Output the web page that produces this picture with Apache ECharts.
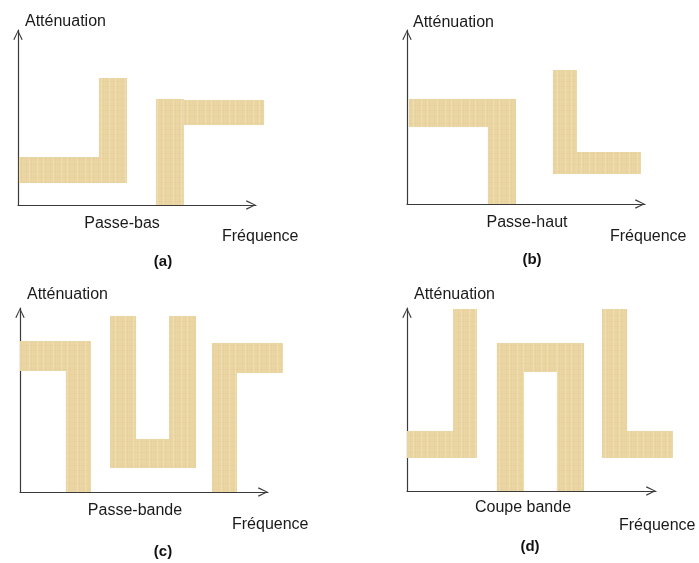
<!DOCTYPE html>
<html>
<head>
<meta charset="utf-8">
<script src="https://cdn.jsdelivr.net/npm/echarts@6/dist/echarts.min.js"></script>
<style>html,body{margin:0;padding:0;background:#fff}#c{width:699px;height:563px}</style>
</head>
<body>
<div id="c"></div>
<script>
// Each band rectangle: [freqStart, freqEnd, attenStart, attenEnd] (axis units 0-100)
var rectsA = [[0.4,45.8,12.6,27.4],[34.0,45.8,12.6,72.6],[58.0,69.7,0,60.6],[69.7,103.4,45.7,60.0]];
var rectsB = [[0.8,45.8,44.3,60.3],[34.0,45.8,0,44.3],[61.3,71.4,17.2,77.0],[71.4,98.3,17.2,29.9]];
var rectsC = [[0,28.6,65.8,82.1],[18.5,28.6,0,65.8],[36.3,46.8,13.0,95.7],[60.1,71.0,13.0,95.7],[46.8,60.1,13.0,28.8],[77.4,87.5,0,81.0],[87.5,106.0,64.7,81.0]];
var rectsD = [[0,18.5,18.0,32.8],[18.5,28.1,18.0,99.5],[36.1,47.0,0,80.9],[60.2,71.1,0,80.9],[47.0,60.2,65.0,80.9],[78.3,88.4,18.0,99.5],[88.4,106.8,18.0,32.8]];
var panelNames = ['Passe-bas','Passe-haut','Passe-bande','Coupe bande'];
var panelTags = ['(a)','(b)','(c)','(d)'];
var yName = 'Atténuation';
var xName = 'Fréquence';

var allRects = [rectsA, rectsB, rectsC, rectsD];

// layout of the four panels (pixels)
var grids = [
  {left:18, top:30, width:238, height:175},
  {left:407, top:30, width:238, height:174},
  {left:20, top:308, width:248, height:184},
  {left:407, top:308, width:249, height:183}
];
var textPos = [
  {y:[21.5, 223.5, 237, 262], nameX:122, fx:222, tagX:163, yx:25},
  {y:[22.5, 222.5, 236.5, 260], nameX:527, fx:610, tagX:532, yx:413},
  {y:[294.5, 510.5, 525, 552], nameX:135, fx:232, tagX:163, yx:27},
  {y:[294.5, 507.5, 525.5, 546.5], nameX:523, fx:619, tagX:530, yx:414}
];

// papyrus-like deterministic texture
var tex = document.createElement('canvas');
tex.width = 24; tex.height = 24;
var tc = tex.getContext('2d');
tc.fillStyle = '#EBD6A3';
tc.fillRect(0,0,24,24);
tc.fillStyle = 'rgba(205,180,120,0.10)';
[2,7,11,17,21].forEach(function(x){ tc.fillRect(x,0,1,24); });
[3,9,14,20].forEach(function(y){ tc.fillRect(0,y,24,1); });
tc.fillStyle = 'rgba(255,250,230,0.22)';
[5,13,19].forEach(function(x){ tc.fillRect(x,0,1,24); });

var arrowPath = 'path://M5,0 L10,10 L8.8,10.6 L5,2.2 L1.2,10.6 L0,10 Z';

var option = {
  animation:false,
  grid: grids.map(function(g){ return {left:g.left, top:g.top, width:g.width, height:g.height}; }),
  xAxis: grids.map(function(g,i){ return {
    type:'value', gridIndex:i, min:0, max:100,
    axisLine:{show:true, onZero:false, lineStyle:{color:'#3a3a3a', width:1.2}, symbol:['none', arrowPath], symbolSize:[10,10], symbolOffset:[0,-5]},
    axisTick:{show:false}, axisLabel:{show:false}, splitLine:{show:false}
  }; }),
  yAxis: grids.map(function(g,i){ return {
    type:'value', gridIndex:i, min:0, max:100,
    axisLine:{show:true, onZero:false, lineStyle:{color:'#3a3a3a', width:1.2}, symbol:['none', arrowPath], symbolSize:[10,10], symbolOffset:[0,-5]},
    axisTick:{show:false}, axisLabel:{show:false}, splitLine:{show:false}
  }; }),
  series: allRects.map(function(rs,i){ return {
    type:'custom', xAxisIndex:i, yAxisIndex:i, clip:false,
    data: rs,
    renderItem: function(params, api){
      var p0 = api.coord([api.value(0), api.value(3)]);
      var p1 = api.coord([api.value(1), api.value(2)]);
      return {type:'rect', shape:{x:p0[0], y:p0[1], width:p1[0]-p0[0], height:p1[1]-p0[1]},
        style:{fill:{image:tex, repeat:'repeat'}}};
    }
  }; }),
  graphic: []
};

var font = '"Liberation Sans", Arial, sans-serif';
textPos.forEach(function(t,i){
  option.graphic.push({type:'text', x:t.yx, y:t.y[0], style:{text:yName, font:'16px '+font, fill:'#1a1a1a', textAlign:'left', textVerticalAlign:'middle'}});
  option.graphic.push({type:'text', x:t.nameX, y:t.y[1], style:{text:panelNames[i], font:'16px '+font, fill:'#1a1a1a', textAlign:'center', textVerticalAlign:'middle'}});
  option.graphic.push({type:'text', x:t.fx, y:t.y[2], style:{text:xName, font:'16px '+font, fill:'#1a1a1a', textAlign:'left', textVerticalAlign:'middle'}});
  option.graphic.push({type:'text', x:t.tagX, y:t.y[3], style:{text:panelTags[i], font:'bold 15px '+font, fill:'#111', textAlign:'center', textVerticalAlign:'middle'}});
});

var chart = echarts.init(document.getElementById('c'));
chart.setOption(option);
</script>
</body>
</html>
